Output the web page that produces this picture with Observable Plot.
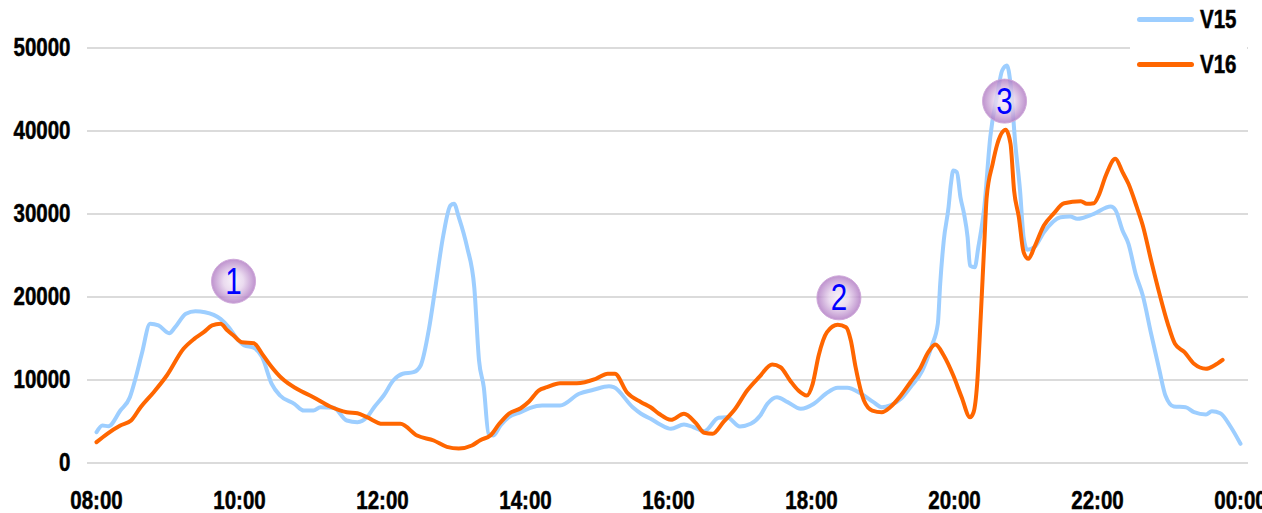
<!DOCTYPE html>
<html>
<head>
<meta charset="utf-8">
<script src="https://cdn.jsdelivr.net/npm/d3@7"></script>
<script src="https://cdn.jsdelivr.net/npm/@observablehq/plot@0.6"></script>
<style>
  html, body { margin: 0; padding: 0; background: #fff; }
  #wrap { position: relative; width: 1262px; height: 513px; overflow: hidden; font-family: "Liberation Sans", Arial, sans-serif; }
  #wrap svg g[aria-label="y-axis tick label"] text,
  #wrap svg g[aria-label="x-axis tick label"] text { stroke: #000; stroke-width: 0.5px; }
  #legend { position: absolute; left: 1130px; top: 0; width: 117px; height: 86px; background: #fff; }
  .sw { position: absolute; left: 7px; width: 57px; height: 5px; border-radius: 3px; }
  .lt { position: absolute; left: 70px; font-size: 25px; font-weight: bold; line-height: 25px; color: #000; transform: scaleX(0.82); transform-origin: 0 50%; white-space: nowrap; -webkit-text-stroke: 0.5px #000; }
</style>
</head>
<body>
<div id="wrap"></div>
<script>
// ---- data ----
const seriesNames = ["V15", "V16"];
const seriesColors = ["#9dceff", "#ff6600"];

const v15Times = ["08:00","08:05","08:10","08:20","08:28","08:33","08:38","08:45","08:52","09:01","09:06","09:15","09:23","09:31","09:44","09:51","09:58","10:04","10:12","10:19","10:27","10:34","10:46","10:54","11:02","11:08","11:19","11:30","11:39","11:47","11:53","12:01","12:09","12:17","12:26","12:32","12:39","12:44","12:51","12:57","13:00","13:04","13:11","13:17","13:21","13:25","13:29","13:33","13:39","13:46","13:56","14:04","14:14","14:29","14:45","14:57","15:10","15:14","15:30","15:37","15:45","15:53","16:02","16:13","16:21","16:30","16:42","16:49","17:00","17:09","17:17","17:23","17:31","17:40","17:51","18:02","18:12","18:22","18:30","18:41","18:52","18:59","19:06","19:15","19:23","19:33","19:41","19:46","19:48","19:51","19:55","19:57","19:59","20:02","20:05","20:08","20:11","20:13","20:17","20:20","20:25","20:30","20:36","20:40","20:44","20:47","20:51","20:55","20:58","21:01","21:07","21:15","21:29","21:37","21:43","21:57","22:11","22:15","22:21","22:26","22:32","22:38","22:45","22:52","22:57","23:04","23:14","23:21","23:31","23:36","23:43","23:52","24:00"];
const v15Values = [3710,4520,4430,6320,7930,10340,13150,16770,16570,15640,16360,17970,18290,18170,17370,16360,14960,14160,13880,12750,9540,8130,7130,6320,6320,6720,6650,5120,4920,5520,6720,8130,9940,10750,10940,11750,16160,20800,27410,31020,31230,29620,26000,21180,12350,9130,3520,3310,4520,5520,6120,6650,6930,6930,8340,8820,9250,9130,6720,5930,5330,4640,4120,4640,4310,3830,5440,5520,4400,4720,5720,7130,7930,7330,6530,7130,8340,9060,9060,8410,7330,6720,6930,7730,9130,11140,14160,16770,21590,26810,30820,33640,35240,35040,32020,30020,27200,23790,23590,26000,30820,39250,44480,47290,47890,45690,38460,32830,27200,25690,26000,27810,29620,29700,29420,30020,30900,30500,28010,26410,22790,20180,15570,11140,8130,6810,6720,6120,5840,6240,6000,4310,2310];

const v16Times = ["08:00","08:09","08:20","08:29","08:37","08:48","08:59","09:13","09:22","09:30","09:37","09:44","09:50","09:55","10:02","10:12","10:19","10:26","10:36","10:48","11:02","11:16","11:30","11:39","11:47","12:00","12:15","12:29","12:43","12:54","13:04","13:15","13:22","13:31","13:38","13:46","13:56","14:03","14:11","14:18","14:29","14:43","14:59","15:09","15:15","15:25","15:37","15:45","15:52","16:02","16:13","16:23","16:30","16:37","16:46","16:56","17:06","17:16","17:27","17:34","17:42","17:49","17:56","18:01","18:06","18:13","18:22","18:29","18:33","18:37","18:44","18:51","18:59","19:06","19:15","19:23","19:31","19:38","19:44","19:51","19:59","20:06","20:13","20:16","20:19","20:22","20:25","20:27","20:32","20:36","20:43","20:47","20:50","20:54","20:58","21:02","21:07","21:15","21:23","21:32","21:46","21:51","21:57","22:01","22:07","22:15","22:21","22:26","22:33","22:38","22:45","22:52","22:59","23:05","23:13","23:21","23:31","23:38","23:45"];
const v16Values = [2510,3520,4520,5120,6720,8530,10540,13760,14960,15760,16570,16770,15960,15360,14550,14430,13150,11750,10140,8940,7930,6810,6120,6000,5520,4720,4720,3310,2710,1950,1750,2110,2750,3370,4720,5930,6600,7410,8730,9130,9610,9610,10140,10750,10750,8530,7330,6720,5930,5200,5930,4800,3640,3520,4920,6530,8730,10340,11870,11540,9940,8730,8130,9540,12950,15760,16650,16360,14760,11540,7530,6320,6120,6720,8130,9730,11350,13350,14280,12950,10540,7930,5520,6120,9540,17570,26410,32020,36040,38460,40140,38460,32830,29620,25400,24600,26000,28610,30020,31300,31540,31230,31300,32230,34640,36650,35040,33640,30820,28610,24400,20390,16770,14360,13350,11950,11350,11750,12430];

const yTicks = [0, 10000, 20000, 30000, 40000, 50000];
const xTickTimes = ["08:00","10:00","12:00","14:00","16:00","18:00","20:00","22:00","24:00"];
const xTickLabels = ["08:00","10:00","12:00","14:00","16:00","18:00","20:00","22:00","00:00"];

const annotationLabels = ["1", "2", "3"];
const annotationTimes = ["09:55", "18:23", "20:42"];
const annotationValues = [21900, 19900, 43600];

// ---- build ----
const toMin = s => { const [h, m] = s.split(":").map(Number); return h * 60 + m; };
const v15 = v15Times.map((t, i) => ({t: toMin(t), v: v15Values[i]}));
const v16 = v16Times.map((t, i) => ({t: toMin(t), v: v16Values[i]}));
const xTicks = xTickTimes.map(toMin);
const ann = annotationLabels.map((l, i) => ({label: l, t: toMin(annotationTimes[i]), v: annotationValues[i]}));
const FONT = '"Liberation Sans", Arial, sans-serif';

const svg = Plot.plot({
  width: 1262,
  height: 513,
  marginLeft: 96,
  marginRight: 22,
  marginTop: 47.5,
  marginBottom: 50.5,
  style: {fontFamily: FONT, fontSize: "25px", fontWeight: "bold", color: "#000", background: "transparent"},
  x: {type: "linear", domain: [toMin("08:00"), toMin("24:00")]},
  y: {domain: [0, 50000]},
  marks: [
    Plot.ruleY(yTicks, {y: d => d, stroke: "#cfcfcf", strokeWidth: 1.4, insetLeft: -9, insetRight: -8}),
    Plot.line(v15, {x: "t", y: "v", stroke: seriesColors[0], strokeWidth: 4, curve: "monotone-x", strokeLinecap: "round", strokeLinejoin: "round"}),
    Plot.line(v16, {x: "t", y: "v", stroke: seriesColors[1], strokeWidth: 4, curve: "monotone-x", strokeLinecap: "round", strokeLinejoin: "round"}),
    Plot.dot(ann, {x: "t", y: "v", r: 22, fill: "url(#bubbleGrad)", fillOpacity: 0.82, stroke: "#cfa9da", strokeWidth: 1}),
    Plot.text(ann, {x: "t", y: "v", text: "label", fill: "#0000ff", fontSize: 36, fontWeight: "normal", fontFamily: FONT, dy: 1}),
    Plot.axisY({ticks: yTicks, label: null, tickSize: 0, tickPadding: 26, tickFormat: d => String(d), fontSize: 25, fontWeight: "bold"}),
    Plot.axisX({ticks: xTicks, label: null, tickSize: 0, tickPadding: 28, tickFormat: d => xTickLabels[xTicks.indexOf(d)], fontSize: 25, fontWeight: "bold"})
  ]
});

// radial gradient for the numbered bubbles
const defs = d3.select(svg).insert("defs", ":first-child");
const g = defs.append("radialGradient").attr("id", "bubbleGrad").attr("cx", "50%").attr("cy", "50%").attr("r", "50%");
g.append("stop").attr("offset", "0%").attr("stop-color", "#f6f0f8");
g.append("stop").attr("offset", "45%").attr("stop-color", "#e6d3ec");
g.append("stop").attr("offset", "100%").attr("stop-color", "#b07ac3");

const wrap = document.getElementById("wrap");
wrap.appendChild(svg);

// narrow typeface look: compress glyphs horizontally without touching positions
svg.querySelectorAll("text").forEach(el => {
  const L = el.getComputedTextLength();
  if (L > 0) {
    el.setAttribute("textLength", (L * 0.82).toFixed(2));
    el.setAttribute("lengthAdjust", "spacingAndGlyphs");
  }
});

// legend (top right, over the plot like the original)
const legend = document.createElement("div");
legend.id = "legend";
seriesNames.forEach((name, i) => {
  const cy = i === 0 ? 19 : 64;
  const sw = document.createElement("div");
  sw.className = "sw";
  sw.style.top = (cy - 2.5) + "px";
  sw.style.background = seriesColors[i];
  const lt = document.createElement("div");
  lt.className = "lt";
  lt.style.top = (cy - 12) + "px";
  lt.textContent = name;
  legend.appendChild(sw);
  legend.appendChild(lt);
});
wrap.appendChild(legend);
</script>
</body>
</html>
